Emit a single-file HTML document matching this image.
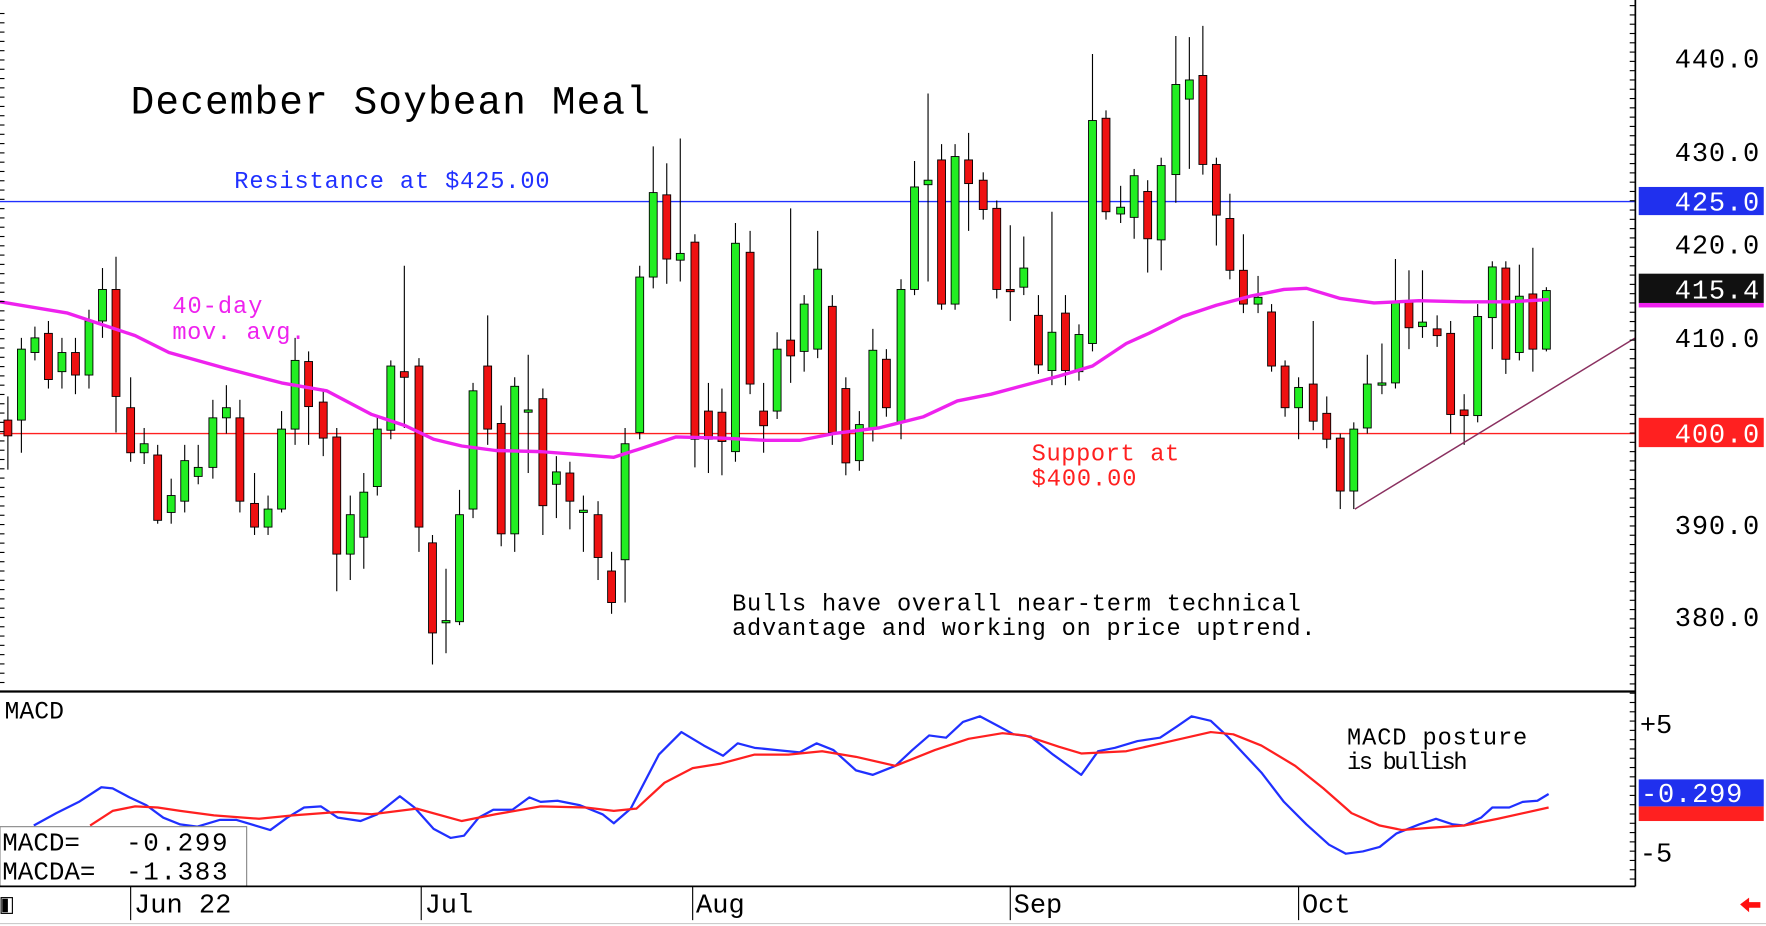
<!DOCTYPE html>
<html><head><meta charset="utf-8"><style>
html,body{margin:0;padding:0;background:#fff;overflow:hidden}
svg{display:block}
text{font-family:"Liberation Mono","DejaVu Sans Mono",monospace;white-space:pre}
</style></head><body>
<svg id="s" width="1766" height="926" viewBox="0 0 1568 822.2" preserveAspectRatio="none" xmlns="http://www.w3.org/2000/svg">
<rect width="1568" height="823" fill="#fff"/>
<g id="g"></g>
</svg>
<script>
const NS="http://www.w3.org/2000/svg",g=document.getElementById('g');
function el(t,a,txt){const e=document.createElementNS(NS,t);for(const k in a)e.setAttribute(k,a[k]);if(txt!=null)e.textContent=txt;g.appendChild(e);return e;}
function poly(pts,c,w){el('polyline',{points:pts.map(p=>p.join(',')).join(' '),fill:'none',stroke:c,'stroke-width':w,'stroke-linejoin':'round'});}
el('line',{x1:0,y1:179,x2:1452,y2:179,stroke:'#2030ff','stroke-width':1.2});
el('line',{x1:0,y1:385,x2:1452,y2:385,stroke:'#ff2020','stroke-width':1.2});
const C=[[7,373,387,'r',352,417],[19,310,373,'g',300,402],[31,300,313,'g',290,320],[43,296,337,'r',285,345],[55,313,330,'g',300,345],[67,313,333,'r',300,350],[79,285,333,'g',275,345],[91,257,285,'g',238,300],[103,257,352,'r',228,384],[116,362,402,'r',335,410],[128,394,402,'g',380,412],[140,404,462,'r',395,465],[152,440,455,'g',425,465],[164,409,445,'g',395,455],[176,415,423,'g',395,430],[189,371,415,'g',355,425],[201,362,371,'g',342,385],[213,371,445,'r',355,455],[226,447,468,'r',420,475],[238,452,468,'g',440,475],[250,381,452,'g',365,455],[262,320,381,'g',300,395],[274,321,361,'r',312,395],[287,357,389,'r',345,405],[299,388,492,'r',380,525],[311,457,492,'g',440,515],[323,437,477,'g',420,505],[335,381,432,'g',370,440],[347,325,382,'g',320,390],[359,330,335,'r',236,380],[372,325,468,'r',318,490],[384,482,562,'r',475,590],[396,551,553,'g',505,580],[408,457,552,'g',435,555],[420,347,452,'g',340,460],[433,325,381,'r',280,395],[445,376,474,'r',360,485],[457,343,474,'g',335,490],[469,364,366,'g',315,420],[482,354,449,'r',345,475],[494,419,430,'g',405,460],[506,420,445,'r',410,470],[518,453,455,'g',440,490],[531,457,495,'r',445,515],[543,507,535,'r',490,545],[555,394,497,'g',380,535],[568,246,384,'g',236,390],[580,171,246,'g',130,256],[592,173,230,'r',145,252],[604,225,231,'g',123,250],[617,215,390,'r',208,415],[629,365,390,'r',340,420],[641,366,392,'r',345,422],[653,216,401,'g',198,410],[666,224,341,'r',205,350],[678,365,378,'r',340,402],[690,310,365,'g',295,372],[702,302,316,'r',185,340],[714,270,312,'g',262,330],[726,239,310,'g',205,318],[739,272,384,'r',262,395],[751,345,411,'r',335,422],[763,377,409,'g',365,418],[775,311,380,'g',292,392],[787,319,362,'r',310,370],[800,257,375,'g',248,390],[812,166,257,'g',143,262],[824,160,164,'g',83,250],[836,142,270,'r',128,275],[848,139,270,'g',128,275],[860,142,163,'r',118,205],[873,160,186,'r',153,195],[885,185,257,'r',178,265],[897,257,259,'r',200,285],[909,238,255,'g',210,262],[922,280,324,'r',262,332],[934,295,329,'g',188,342],[946,278,329,'r',262,342],[958,297,330,'g',288,338],[970,107,305,'g',48,312],[982,105,188,'r',98,195],[995,184,190,'g',165,198],[1007,156,193,'g',150,212],[1019,170,212,'r',160,242],[1031,147,213,'g',140,240],[1044,75,155,'g',32,180],[1056,71,88,'g',33,150],[1068,67,146,'r',23,155],[1080,146,191,'r',140,218],[1092,194,240,'r',172,248],[1104,240,270,'r',208,278],[1117,264,270,'g',245,278],[1129,277,325,'r',270,330],[1141,325,362,'r',320,370],[1153,344,362,'g',335,390],[1166,341,374,'r',285,382],[1178,367,390,'r',352,398],[1190,389,436,'r',385,452],[1202,381,436,'g',375,452],[1214,341,380,'g',315,385],[1227,340,342,'g',305,350],[1239,269,340,'g',230,345],[1251,267,291,'r',240,310],[1263,286,290,'g',240,300],[1276,292,298,'r',280,308],[1288,296,368,'r',285,385],[1300,364,369,'r',350,395],[1312,281,369,'g',270,375],[1325,237,282,'g',232,310],[1337,238,319,'r',232,332],[1349,263,313,'g',235,320],[1361,261,310,'r',220,330],[1373,258,310,'g',255,312]];
C.forEach(c=>{const[x,t,b,col,h,l]=c;el('line',{x1:x,y1:h,x2:x,y2:l,stroke:'#000','stroke-width':1});el('rect',{x:x-3.5,y:t,width:7,height:Math.max(2,b-t),fill:col=='g'?'#22ee22':'#ee1111',stroke:'#000','stroke-width':0.8});});
poly([[0,268],[60,278],[120,298],[150,313],[200,327],[250,340],[290,347],[330,368],[360,378],[385,390],[410,396],[440,400],[480,401],[520,404],[545,406],[570,398],[600,388],[640,389],[680,391],[710,391],[740,385],[780,380],[820,370],[850,356],[880,350],[910,342],[940,334],[970,325],[1000,305],[1020,296],[1050,281],[1080,271],[1110,263],[1140,257],[1160,256],[1190,265],[1220,269],[1260,267],[1300,268],[1340,268],[1375,266]],'#ee22ee',3);
el('line',{x1:1203,y1:452,x2:1452,y2:300,stroke:'#8a3060','stroke-width':1.3});
el('text',{x:116,y:101,'font-size':35,fill:'#000',textLength:461,lengthAdjust:'spacing'},'December Soybean Meal');
el('text',{x:208,y:167,'font-size':21,fill:'#2030ff',textLength:280,lengthAdjust:'spacing'},'Resistance at $425.00');
el('text',{x:153,y:278,'font-size':21,fill:'#ee22ee',textLength:80,lengthAdjust:'spacing'},'40-day');
el('text',{x:153,y:301,'font-size':21,fill:'#ee22ee',textLength:118,lengthAdjust:'spacing'},'mov. avg.');
el('text',{x:916,y:409,'font-size':21,fill:'#ff2020',textLength:131,lengthAdjust:'spacing'},'Support at');
el('text',{x:916,y:431,'font-size':21,fill:'#ff2020',textLength:93,lengthAdjust:'spacing'},'$400.00');
el('text',{x:650,y:542,'font-size':21,fill:'#000',textLength:505,lengthAdjust:'spacing'},'Bulls have overall near-term technical');
el('text',{x:650,y:564,'font-size':21,fill:'#000',textLength:518,lengthAdjust:'spacing'},'advantage and working on price uptrend.');
poly([[30,733],[50,722],[70,712],[90,699],[100,700],[115,708],[130,715],[145,726],[160,732],[175,734],[195,728],[210,728],[230,734],[240,737],[255,726],[270,717],[285,716],[300,726],[320,729],[335,723],[355,707],[368,717],[385,736],[400,744],[412,742],[425,726],[438,719],[455,719],[470,708],[480,712],[495,711],[515,715],[535,723],[545,731],[560,718],[585,670],[605,650],[625,662],[642,671],[655,660],[670,664],[690,666],[710,668],[725,660],[740,666],[760,684],[775,688],[795,680],[810,666],[825,653],[840,655],[855,641],[870,636],[885,644],[900,652],[915,654],[935,670],[960,688],[975,667],[990,664],[1010,658],[1030,655],[1045,645],[1058,636],[1075,640],[1090,654],[1105,670],[1120,686],[1140,712],[1160,732],[1180,750],[1195,758],[1210,756],[1225,752],[1240,740],[1260,732],[1275,727],[1290,732],[1300,733],[1315,726],[1325,717],[1340,717],[1352,712],[1365,711],[1375,705]],'#2030ff',2);
poly([[80,733],[100,720],[120,716],[140,717],[160,720],[190,724],[230,727],[260,724],[300,721],[330,723],[370,718],[410,729],[440,723],[480,716],[520,717],[545,720],[565,718],[590,695],[615,682],[640,678],[670,670],[700,670],[730,667],[760,672],[795,680],[830,666],[860,656],[890,651],[910,653],[940,663],[960,669],[1000,667],[1040,658],[1075,650],[1095,652],[1120,662],[1150,680],[1175,700],[1200,722],[1225,733],[1245,737],[1270,735],[1300,733],[1330,727],[1375,717]],'#ff2020',2);
el('text',{x:4,y:638,'font-size':22,fill:'#000'},'MACD');
el('text',{x:1196,y:661,'font-size':21,fill:'#000',textLength:160,lengthAdjust:'spacing'},'MACD posture');
el('text',{x:1196,y:683,'font-size':21,fill:'#000',textLength:107,lengthAdjust:'spacing'},'is bullish');
el('rect',{x:0,y:734,width:219,height:53,fill:'#fff',stroke:'#888','stroke-width':1});
el('text',{x:2,y:755,'font-size':23,fill:'#000'},'MACD=');
el('text',{x:112,y:755,'font-size':23,fill:'#000',textLength:90,lengthAdjust:'spacing'},'-0.299');
el('text',{x:2,y:781,'font-size':23,fill:'#000'},'MACDA=');
el('text',{x:112,y:781,'font-size':23,fill:'#000',textLength:90,lengthAdjust:'spacing'},'-1.383');
el('line',{x1:0,y1:614,x2:1452,y2:614,stroke:'#000','stroke-width':2});
el('line',{x1:1452,y1:0,x2:1452,y2:787,stroke:'#000','stroke-width':1.5});
el('line',{x1:0,y1:787,x2:1452,y2:787,stroke:'#000','stroke-width':1.5});
el('line',{x1:0,y1:820,x2:1568,y2:820,stroke:'#ccc','stroke-width':1});
for(let y=5;y<787;y+=8.25){el('line',{x1:1447,y1:y,x2:1452,y2:y,stroke:'#000','stroke-width':1});}
for(let y=12;y<612;y+=8.25){el('line',{x1:0,y1:y,x2:4,y2:y,stroke:'#000','stroke-width':1});}
function lab(y,t,c){el('text',{x:1487,y:y,'font-size':24,fill:c||'#000',textLength:75,lengthAdjust:'spacing'},t);}
[[52,'440.0'],[135,'430.0'],[217,'420.0'],[300,'410.0'],[466,'390.0'],[548,'380.0']].forEach(a=>lab(a[0]+8,a[1]));
function box(y,h,c){el('rect',{x:1455,y:y,width:111,height:h,fill:c});}
box(166,25,'#2030ee');lab(187,'425.0','#fff');
box(269,4,'#ee22ee');
box(243,26,'#111');lab(265,'415.4','#fff');
box(371,26,'#ff2020');lab(393,'400.0','#fff');
box(716,13,'#ff2020');
box(692,24,'#2030ee');
el('text',{x:1457,y:712,'font-size':24,fill:'#fff',textLength:90,lengthAdjust:'spacing'},'-0.299');
el('text',{x:1456,y:651,'font-size':24,fill:'#000'},'+5');
el('text',{x:1456,y:765,'font-size':24,fill:'#000'},'-5');
[[116,'Jun 22'],[374,'Jul'],[615,'Aug'],[897,'Sep'],[1153,'Oct']].forEach(a=>{el('line',{x1:a[0],y1:787,x2:a[0],y2:817,stroke:'#000','stroke-width':1});el('text',{x:a[0]+3,y:810,'font-size':24,fill:'#000'},a[1]);});
el('rect',{x:1,y:797,width:10,height:14,fill:'#fff',stroke:'#000','stroke-width':1});
el('rect',{x:2,y:798,width:5,height:12,fill:'#000'});
el('polygon',{points:'1545,803 1553,797 1553,801 1563,801 1563,806 1553,806 1553,810',fill:'#ff1010'});
</script>
</body></html>
